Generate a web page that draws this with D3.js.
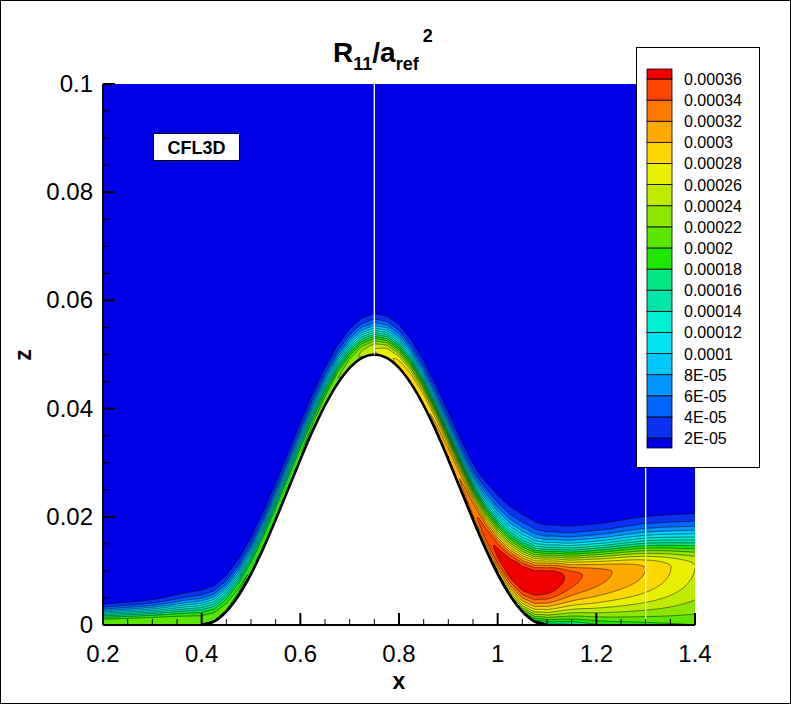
<!DOCTYPE html>
<html><head><meta charset="utf-8">
<script src="https://cdn.jsdelivr.net/npm/d3@7"></script>
<style>body{margin:0;background:#fff}svg{display:block}text{font-family:"Liberation Sans",Arial,sans-serif}</style>
</head><body>
<script>
// ---- data ----
const levels = [2e-5,4e-5,6e-5,8e-5,1e-4,1.2e-4,1.4e-4,1.6e-4,1.8e-4,2e-4,2.2e-4,2.4e-4,2.6e-4,2.8e-4,3e-4,3.2e-4,3.4e-4,3.6e-4];
const levelLabels = ["2E-05","4E-05","6E-05","8E-05","0.0001","0.00012","0.00014","0.00016","0.00018","0.0002","0.00022","0.00024","0.00026","0.00028","0.0003","0.00032","0.00034","0.00036"];
const bandColors = ["#0000e6","#0a32f0","#0064ff","#0096ff","#00c8ff","#00e6f0","#00f0d2","#00e6aa","#00e682","#1ee600","#5ae600","#8ce600","#beeb00","#e6f000","#ffd700","#ffaa00","#ff7800","#ff4600","#f00000"];
// hill surface profile
const hillX = [0.4,0.425,0.45,0.475,0.5,0.525,0.55,0.575,0.6,0.625,0.65,0.675,0.7,0.725,0.75,0.775,0.8,0.825,0.85,0.875,0.9,0.925,0.95,0.975,1.0,1.025,1.05,1.075,1.1];
const hillZ = [0,0.00063,0.00248,0.00545,0.00941,0.01415,0.01944,0.025,0.03056,0.03585,0.04059,0.04455,0.04752,0.04938,0.05,0.04938,0.04752,0.04455,0.04059,0.03585,0.03056,0.025,0.01944,0.01415,0.00941,0.00545,0.00248,0.00063,0];
// boundary-layer profile knots
const knotX  = [0.2,0.3,0.4,0.5,0.6,0.7,0.75,0.8,0.9,0.95,1.0,1.05,1.1,1.15,1.2,1.3,1.4];
const peakV  = [2.1e-4,2.15e-4,2.1e-4,2.0e-4,2.0e-4,2.3e-4,2.6e-4,2.85e-4,3.1e-4,3.35e-4,3.65e-4,3.9e-4,3.85e-4,3.5e-4,3.3e-4,3.0e-4,2.6e-4];
const peakH  = [0.0006,0.0007,0.0009,0.001,0.0009,0.0008,0.0008,0.0008,0.0012,0.002,0.004,0.0065,0.0085,0.009,0.0095,0.0105,0.011];
const wallV  = [2.0e-4,2.05e-4,2.0e-4,1.9e-4,1.9e-4,2.2e-4,2.5e-4,2.75e-4,2.9e-4,2.9e-4,2.6e-4,2.0e-4,1.5e-4,1.55e-4,1.75e-4,1.9e-4,2.0e-4];
const widthH = [0.0021,0.0026,0.0036,0.0038,0.0039,0.0041,0.0042,0.0044,0.0046,0.005,0.0062,0.0066,0.0058,0.0055,0.0055,0.0058,0.006];
const xTicks = [0.2,0.4,0.6,0.8,1,1.2,1.4];
const zTicks = [0,0.02,0.04,0.06,0.08,0.1];

// monotone cubic interpolation through knots
function mono(xs, ys){
  const n=xs.length, dk=[], m=new Array(n);
  for(let i=0;i<n-1;i++) dk.push((ys[i+1]-ys[i])/(xs[i+1]-xs[i]));
  m[0]=dk[0]; m[n-1]=dk[n-2];
  for(let i=1;i<n-1;i++) m[i]=dk[i-1]*dk[i]<=0?0:(dk[i-1]+dk[i])/2;
  for(let i=0;i<n-1;i++){ if(dk[i]===0){m[i]=m[i+1]=0;continue;}
    const a=m[i]/dk[i], b=m[i+1]/dk[i], s=a*a+b*b; if(s>9){const t=3/Math.sqrt(s);m[i]=t*a*dk[i];m[i+1]=t*b*dk[i];}}
  return function(v){
    if(v<=xs[0]) return ys[0]; if(v>=xs[n-1]) return ys[n-1];
    let i=d3.bisectRight(xs,v)-1; const h=xs[i+1]-xs[i], t=(v-xs[i])/h, t2=t*t, t3=t2*t;
    return (2*t3-3*t2+1)*ys[i]+(t3-2*t2+t)*h*m[i]+(-2*t3+3*t2)*ys[i+1]+(t3-t2)*h*m[i+1];
  };
}

// ---- scales ----
const W=791,H=704;
const x = d3.scaleLinear().domain([0.2,1.4]).range([103,695]);
const y = d3.scaleLinear().domain([0,0.1]).range([625,84]);
const hill = d3.scaleLinear().domain(hillX).range(hillZ).clamp(true);
const P = mono(knotX,peakV), C = mono(knotX,peakH), Wv = mono(knotX,wallV), D = mono(knotX,widthH);

const svg = d3.select("body").append("svg").attr("width",W).attr("height",H);
svg.append("rect").attr("x",0.5).attr("y",0.5).attr("width",W-1).attr("height",H-1).attr("fill","#fff").attr("stroke","#000");
svg.append("clipPath").attr("id","cp").append("rect").attr("x",x(0.2)).attr("y",y(0.1)).attr("width",x(1.4)-x(0.2)).attr("height",y(0)-y(0.1));
const g = svg.append("g").attr("clip-path","url(#cp)");
g.append("rect").attr("x",x(0.2)).attr("y",y(0.1)).attr("width",x(1.4)-x(0.2)).attr("height",y(0)-y(0.1)).attr("fill",bandColors[0]);

// ---- field grid ----
const x0=0.19,x1=1.41,z0=-0.001,z1=0.101,nx=700,nz=600;
const dx=(x1-x0)/(nx-1),dz=(z1-z0)/(nz-1);
const vals=new Float64Array(nx*nz);
for(let j=0;j<nz;j++){const zz=z0+j*dz;for(let i=0;i<nx;i++){const xx=x0+i*dx;
  const h=hill(xx), d=zz-h; let v;
  if(d<0) v=-1; else {const p=P(xx),c=C(xx),w=Wv(xx),s=D(xx);
    if(d>=c){const q=(d-c)/s; v=p*Math.exp(-q*q);} else {const t=(c-d)/c; v=w+(p-w)*(1-t*t);} }
  vals[j*nx+i]=v;}}
const contours=d3.contours().size([nx,nz]).thresholds(levels)(vals);
const proj=d3.geoTransform({point:function(px,py){this.stream.point(x(x0+(px-0.5)*dx),y(z0+(py-0.5)*dz));}});
const path=d3.geoPath(proj);
g.selectAll("path.band").data(contours).join("path").attr("class","band").attr("d",path).attr("fill",(d,i)=>bandColors[i+1]).attr("stroke","none");
g.selectAll("path.line").data(contours).join("path").attr("class","line").attr("d",path).attr("fill","none").attr("stroke","#000").attr("stroke-width",0.5);
// hill
const hillPts=hillX.map((v,i)=>[x(v),y(hillZ[i])]);
g.append("path").attr("d",d3.line().curve(d3.curveMonotoneX)(hillPts)+"Z").attr("fill","#fff");
g.append("path").attr("d",d3.line().curve(d3.curveMonotoneX)(hillPts)).attr("fill","none").attr("stroke","#000").attr("stroke-width",2.5);
// white marker lines
g.append("line").attr("x1",x(0.75)).attr("x2",x(0.75)).attr("y1",y(0.1)).attr("y2",y(0.05)).attr("stroke","#fff").attr("stroke-width",1.3);
g.append("line").attr("x1",x(1.3)).attr("x2",x(1.3)).attr("y1",y(0.1)).attr("y2",y(0)).attr("stroke","#fff").attr("stroke-width",1.3);

// ---- axes ----
const ax=svg.append("g");
ax.append("line").attr("x1",x(0.2)).attr("x2",x(1.4)).attr("y1",y(0)).attr("y2",y(0)).attr("stroke","#000").attr("stroke-width",2);
ax.append("line").attr("x1",x(0.2)).attr("x2",x(0.2)).attr("y1",y(0)).attr("y2",y(0.1)).attr("stroke","#000").attr("stroke-width",2);
d3.range(0.2,1.4001,0.05).forEach(v=>{const major=xTicks.some(t=>Math.abs(t-v)<1e-6);
  ax.append("line").attr("x1",x(v)).attr("x2",x(v)).attr("y1",y(0)).attr("y2",y(0)-(major?12:6)).attr("stroke","#000").attr("stroke-width",major?2:1);});
d3.range(0,0.1001,0.005).forEach(v=>{const major=zTicks.some(t=>Math.abs(t-v)<1e-9);
  ax.append("line").attr("x1",x(0.2)).attr("x2",x(0.2)+(major?12:6)).attr("y1",y(v)).attr("y2",y(v)).attr("stroke","#000").attr("stroke-width",major?2:1);});
xTicks.forEach(v=>ax.append("text").attr("x",x(v)).attr("y",662).attr("text-anchor","middle").attr("font-size",24).text(d3.format("~g")(v)));
zTicks.forEach(v=>ax.append("text").attr("x",93).attr("y",y(v)+8).attr("text-anchor","end").attr("font-size",24).text(d3.format("~g")(v)));
svg.append("text").attr("x",399).attr("y",689).attr("text-anchor","middle").attr("font-size",23).attr("font-weight","bold").text("x");
svg.append("text").attr("transform","translate(31,355) rotate(-90)").attr("text-anchor","middle").attr("font-size",23).attr("font-weight","bold").text("z");
// title
const tt=svg.append("text").attr("x",333).attr("y",62).attr("font-size",28).attr("font-weight","bold");
tt.append("tspan").text("R");
tt.append("tspan").attr("font-size",18).attr("dy",8).text("11");
tt.append("tspan").attr("dy",-8).text("/a");
tt.append("tspan").attr("font-size",18).attr("dy",8).text("ref");
tt.append("tspan").attr("font-size",18).attr("dx",4).attr("dy",-28).text("2");
// CFL3D label
svg.append("rect").attr("x",153.5).attr("y",133.5).attr("width",86).attr("height",27).attr("fill","#fff").attr("stroke","#000");
svg.append("text").attr("x",196.5).attr("y",154).attr("text-anchor","middle").attr("font-size",18).attr("font-weight","bold").text("CFL3D");

// ---- legend ----
svg.append("rect").attr("x",636.5).attr("y",47.5).attr("width",123).attr("height",420).attr("fill","#fff").attr("stroke","#000");
const nL=levels.length;
const ly=d3.scaleLinear().domain([nL-1,0]).range([79,438]);
const lg=svg.append("g");
bandColors.forEach((c,k)=>{
  let yTop,yBot;
  if(k===0){yTop=ly(0);yBot=ly(0)+10;}
  else if(k===nL){yTop=ly(nL-1)-10;yBot=ly(nL-1);}
  else {yTop=ly(k);yBot=ly(k-1);}
  lg.append("rect").attr("x",647).attr("y",yTop).attr("width",25).attr("height",yBot-yTop).attr("fill",c).attr("stroke","#000").attr("stroke-width",0.8);
});
levelLabels.forEach((t,i)=>lg.append("text").attr("x",684).attr("y",ly(i)+6).attr("font-size",16).text(t));
</script>
</body></html>
